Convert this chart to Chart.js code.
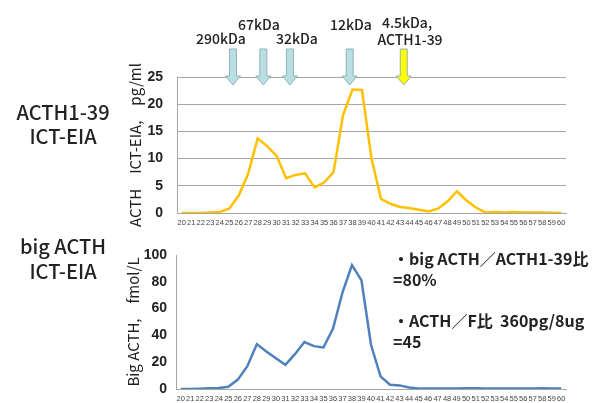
<!DOCTYPE html>
<html>
<head>
<meta charset="utf-8">
<script src="https://cdn.jsdelivr.net/npm/chart.js@4"></script>
<style>
  body { margin: 0; background: #fff; }
  #wrap { position: relative; width: 598px; height: 403px; overflow: hidden; font-family: "Noto Sans CJK JP", "Noto Sans", sans-serif; color: #222; }
  .box { position: absolute; left: 0; width: 598px; }
  .t { position: absolute; white-space: nowrap; transform: translate(-50%, -50%); }
  .side { font-size: 20px; font-weight: 500; }
  .kda { font-size: 14px; font-weight: 500; }
  .note { position: absolute; white-space: nowrap; font-size: 16px; font-weight: bold; transform: translateY(-50%); }
</style>
</head>
<body>
<div id="wrap">
  <div class="box" style="top:0;height:236px"><canvas id="chartIct"></canvas></div>
  <div class="box" style="top:236px;height:167px"><canvas id="chartBig"></canvas></div>

  <div class="t side" style="left:63px;top:111px">ACTH1-39</div>
  <div class="t side" style="left:63px;top:135px">ICT-EIA</div>
  <div class="t side" style="left:63px;top:245px">big ACTH</div>
  <div class="t side" style="left:63px;top:270px">ICT-EIA</div>

  <div class="t kda" style="left:221px;top:38px">290kDa</div>
  <div class="t kda" style="left:259px;top:24px">67kDa</div>
  <div class="t kda" style="left:297px;top:38px">32kDa</div>
  <div class="t kda" style="left:351px;top:24px">12kDa</div>
  <div class="t kda" style="left:407px;top:22px">4.5kDa,</div>
  <div class="t kda" style="left:410px;top:39px">ACTH1-39</div>

  <div class="note" style="left:393px;top:258px">・big ACTH／ACTH1-39比</div>
  <div class="note" style="left:393px;top:279px">=80%</div>
  <div class="note" style="left:393px;top:320px">・ACTH／F比&nbsp;&nbsp;360pg/8ug</div>
  <div class="note" style="left:393px;top:341px">=45</div>
</div>
<script>
// fraction numbers 20..60
const fractions = []
for (let i = 20; i <= 60; i++) fractions.push(String(i))

// ACTH1-39 ICT-EIA, pg/ml
const ictValues = [0, 0, 0, 0.1, 0.2, 0.8, 3.2, 7.2, 13.7, 12.3, 10.5, 6.4, 7.0, 7.3, 4.7, 5.6, 7.5, 18.0, 22.7, 22.6,
  10.0, 2.6, 1.7, 1.1, 0.9, 0.6, 0.3, 0.8, 2.1, 4.0, 2.3, 1.0, 0.1, 0.2, 0.1, 0.2, 0.1, 0.1, 0.1, 0.05, 0]

// big ACTH ICT-EIA, fmol/L
const bigValues = [0, 0, 0.2, 0.5, 0.7, 1.7, 7, 17, 33.5, 28, 23, 18, 26, 35, 32, 31, 45, 72, 92.5, 81,
  33, 9.4, 3.2, 2.7, 1.2, 0.4, 0.3, 0.3, 0.3, 0.4, 0.5, 0.5, 0.4, 0.3, 0.4, 0.3, 0.3, 0.3, 0.5, 0.4, 0.3]

const ictTicks = [0, 5, 10, 15, 20, 25]
const bigTicks = [0, 20, 40, 60, 80, 100]

// molecular weight markers (fraction index on the x axis)
const markerPos = [5.4, 8.6, 11.4, 17.7, 23.4]
const markerFill = ['#b9dfe3', '#b9dfe3', '#b9dfe3', '#b9dfe3', '#ffff00']

const grey = '#a6a6a6'
const tickFont = { family: 'Liberation Sans', size: 14, weight: 'bold' }
const catFont = { family: 'Liberation Sans', size: 7.5 }

const arrows = {
  id: 'arrows',
  afterDraw(chart) {
    const ctx = chart.ctx
    const x = chart.scales.x
    markerPos.forEach((p, i) => {
      const cx = x.getPixelForValue(p)
      ctx.save()
      ctx.beginPath()
      ctx.moveTo(cx - 3.5, 49)
      ctx.lineTo(cx + 3.5, 49)
      ctx.lineTo(cx + 3.5, 76)
      ctx.lineTo(cx + 7.5, 76)
      ctx.lineTo(cx, 85)
      ctx.lineTo(cx - 7.5, 76)
      ctx.lineTo(cx - 3.5, 76)
      ctx.closePath()
      ctx.fillStyle = markerFill[i]
      ctx.fill()
      ctx.strokeStyle = '#8fb3b6'
      ctx.lineWidth = 1
      ctx.stroke()
      ctx.restore()
    })
  }
}

function makeChart(id, values, ticks, color, opts) {
  return new Chart(document.getElementById(id), {
    type: 'line',
    data: {
      labels: fractions,
      datasets: [{
        data: values,
        borderColor: color,
        borderWidth: 2.5,
        pointRadius: 0,
        tension: 0
      }]
    },
    options: {
      responsive: true,
      maintainAspectRatio: false,
      animation: false,
      layout: { padding: opts.padding },
      plugins: { legend: { display: false }, tooltip: { enabled: false } },
      scales: {
        x: {
          offset: true,
          grid: { display: false, drawTicks: false },
          border: { display: true, color: grey, width: 1 },
          ticks: { autoSkip: false, maxRotation: 0, minRotation: 0, padding: 5, color: '#444', font: catFont },
          afterFit: s => { s.height = opts.xHeight }
        },
        y: {
          min: 0,
          max: ticks[ticks.length - 1],
          afterBuildTicks: s => { s.ticks = ticks.map(v => ({ value: v })) },
          grid: { display: true, color: opts.gridColor, lineWidth: 1, drawTicks: true, tickLength: opts.tickLen, tickColor: 'rgba(0,0,0,0)' },
          border: { display: true, color: grey, width: 1 },
          ticks: { padding: 2, color: '#222', font: tickFont },
          title: { display: true, text: opts.title, color: '#222', font: { family: 'Noto Sans CJK JP', size: 15 }, padding: { top: opts.titlePad } },
          afterFit: s => { s.width = opts.yWidth }
        }
      }
    },
    plugins: opts.plugins
  })
}

makeChart('chartIct', ictValues, ictTicks, '#ffc000', {
  padding: { top: 77, right: 32, left: 120, bottom: 0 },
  xHeight: 23, yWidth: 57, gridColor: grey, tickLen: 12, titlePad: 6,
  title: 'ACTH　ICT-EIA,　pg/ml', plugins: [arrows]
})

makeChart('chartBig', bigValues, bigTicks, '#4f81bd', {
  padding: { top: 19, right: 32, left: 120, bottom: 0 },
  xHeight: 14, yWidth: 56, gridColor: 'rgba(0,0,0,0)', tickLen: 7, titlePad: 4,
  title: 'Big ACTH,　fmol/L', plugins: []
})
</script>
</body>
</html>
